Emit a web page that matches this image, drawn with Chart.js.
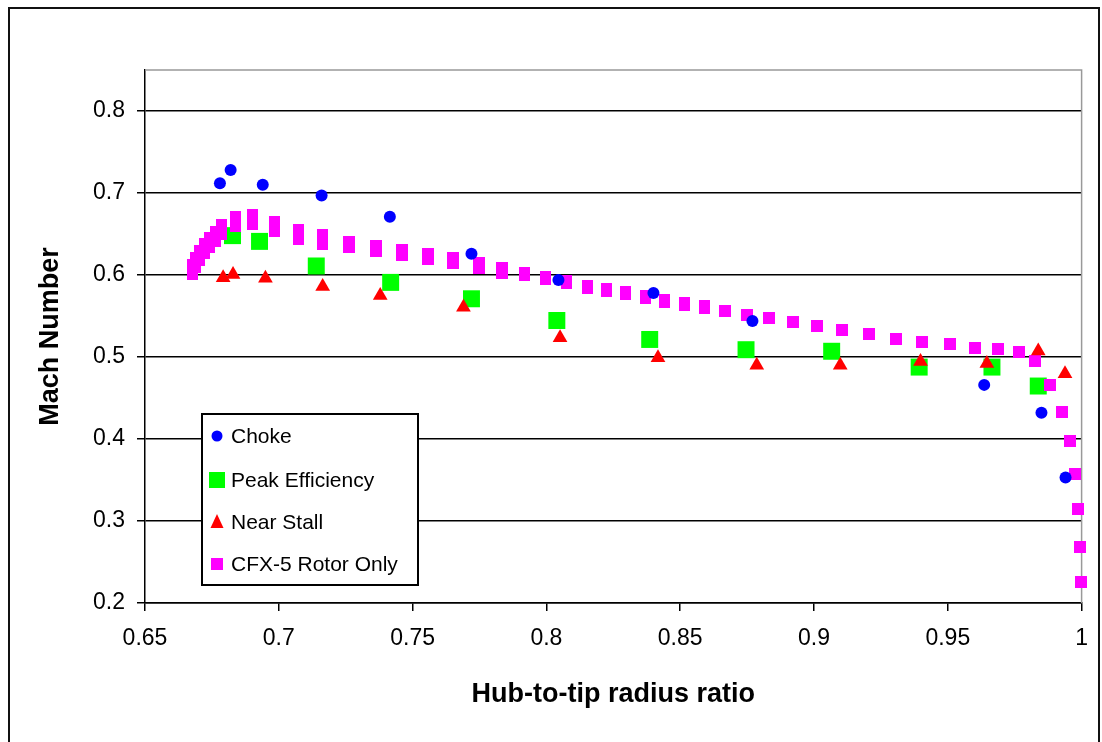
<!DOCTYPE html>
<html>
<head>
<meta charset="utf-8">
<script src="https://cdn.jsdelivr.net/npm/chart.js@4"></script>
<style>
  html, body { margin: 0; padding: 0; background: #fff; }
  #wrap { width: 1102px; height: 742px; }
</style>
</head>
<body>
<div id="wrap"><canvas id="machChart" width="1102" height="742"></canvas></div>
<script>
// Hub-to-tip radius ratio vs Mach number
const chokeX = [0.678, 0.682, 0.694, 0.716, 0.7415, 0.772, 0.8045, 0.840, 0.877, 0.9636, 0.985, 0.994];
const chokeY = [0.712, 0.728, 0.710, 0.697, 0.671, 0.626, 0.594, 0.578, 0.544, 0.466, 0.432, 0.353];

const peakX = [0.6827, 0.6928, 0.714, 0.7418, 0.772, 0.8039, 0.8386, 0.8746, 0.9066, 0.9393, 0.9665, 0.9838];
const peakY = [0.648, 0.641, 0.611, 0.591, 0.571, 0.5445, 0.5214, 0.5089, 0.507, 0.4877, 0.4877, 0.4646];

const stallX = [0.6792, 0.6829, 0.695, 0.7164, 0.7379, 0.769, 0.8051, 0.8417, 0.8786, 0.9098, 0.9398, 0.9646, 0.9838, 0.9938];
const stallY = [0.5965, 0.6005, 0.596, 0.586, 0.575, 0.5607, 0.5235, 0.499, 0.4898, 0.4898, 0.4946, 0.492, 0.5072, 0.4797];

const cfxX = [0.6679, 0.6690, 0.6705, 0.6723, 0.6742, 0.6764, 0.6787, 0.6838, 0.6903, 0.6984,
  0.7072, 0.7165, 0.7263, 0.7363, 0.7459, 0.7558, 0.7652, 0.7747, 0.7834, 0.7917,
  0.7998, 0.8076, 0.8153, 0.8225, 0.8296, 0.8370, 0.8443, 0.8517, 0.8592, 0.8669,
  0.8748, 0.8833, 0.8923, 0.9011, 0.9104, 0.9206, 0.9305, 0.9405, 0.9507, 0.9600,
  0.9687, 0.9767, 0.9827, 0.9883, 0.9927, 0.9955, 0.9976, 0.9987, 0.9995, 0.9997];
const cfxY = [0.6066, 0.6151, 0.6236, 0.6321, 0.6394, 0.6467, 0.6552, 0.6652, 0.6682, 0.6597,
  0.6495, 0.6431, 0.6374, 0.6321, 0.6269, 0.6220, 0.6172, 0.6118, 0.6054, 0.6013,
  0.5962, 0.5911, 0.5859, 0.5819, 0.5786, 0.5734, 0.5685, 0.5652, 0.5612, 0.5567,
  0.5518, 0.5473, 0.5425, 0.5376, 0.5327, 0.5275, 0.5223, 0.5178, 0.5157, 0.5108,
  0.5096, 0.5062, 0.4946, 0.4655, 0.4330, 0.3973, 0.3568, 0.3150, 0.2684, 0.2254];

const seriesNames = ['Choke', 'Peak Efficiency', 'Near Stall', 'CFX-5 Rotor Only'];
const xTickLabels = ['0.65', '0.7', '0.75', '0.8', '0.85', '0.9', '0.95', '1'];
const yTickLabels = ['0.2', '0.3', '0.4', '0.5', '0.6', '0.7', '0.8'];

const BLUE = '#0000ff';
const GREEN = '#00ff00';
const RED = '#ff0000';
const MAGENTA = '#ff00ff';
const FONT = '"Liberation Sans", Arial, sans-serif';

function toPoints(xs, ys) {
  return xs.map((x, i) => ({ x, y: ys[i] }));
}

function makeBlock(w, h, color) {
  const c = document.createElement('canvas');
  c.width = w;
  c.height = h;
  const g = c.getContext('2d');
  g.fillStyle = color;
  g.fillRect(0, 0, w, h);
  return c;
}

// CFX markers are stretched where the curve is steep
const cfxBlocks = {
  tall: makeBlock(11, 21, MAGENTA),
  mid: makeBlock(12, 17, MAGENTA),
  low: makeBlock(11, 14, MAGENTA),
  square: makeBlock(12, 12, MAGENTA),
};

function cfxStyle(ctx) {
  const p = ctx.raw;
  if (!p) return cfxBlocks.square;
  if (p.x < 0.72) return cfxBlocks.tall;
  if (p.x < 0.79) return cfxBlocks.mid;
  if (p.x < 0.86) return cfxBlocks.low;
  return cfxBlocks.square;
}

const chartFrame = {
  id: 'chartFrame',
  beforeDraw(chart) {
    const ctx = chart.ctx;
    ctx.save();
    ctx.fillStyle = '#fff';
    ctx.fillRect(0, 0, chart.width, chart.height);
    ctx.restore();
  },
  beforeDatasetsDraw(chart) {
    const { ctx, chartArea: a } = chart;
    ctx.save();
    ctx.strokeStyle = '#999';
    ctx.lineWidth = 1.5;
    ctx.beginPath();
    ctx.moveTo(a.left, a.top);
    ctx.lineTo(a.right, a.top);
    ctx.lineTo(a.right, a.bottom);
    ctx.stroke();
    ctx.restore();
  },
  afterDraw(chart) {
    const ctx = chart.ctx;
    ctx.save();
    // outer border
    ctx.strokeStyle = '#111';
    ctx.lineWidth = 2;
    ctx.strokeRect(9, 8, 1090, 760);

    // legend box
    const lx = 202, ly = 414, lw = 216, lh = 171;
    ctx.fillStyle = '#fff';
    ctx.fillRect(lx, ly, lw, lh);
    ctx.strokeStyle = '#000';
    ctx.lineWidth = 2;
    ctx.strokeRect(lx, ly, lw, lh);

    const mx = 217;
    const rows = [436, 480, 522, 564];
    // Choke
    ctx.fillStyle = BLUE;
    ctx.beginPath();
    ctx.arc(mx, rows[0], 5.5, 0, Math.PI * 2);
    ctx.fill();
    // Peak Efficiency
    ctx.fillStyle = GREEN;
    ctx.fillRect(mx - 8, rows[1] - 8, 16, 16);
    // Near Stall
    ctx.fillStyle = RED;
    ctx.beginPath();
    ctx.moveTo(mx, rows[2] - 8);
    ctx.lineTo(mx + 6.5, rows[2] + 6);
    ctx.lineTo(mx - 6.5, rows[2] + 6);
    ctx.closePath();
    ctx.fill();
    // CFX-5
    ctx.fillStyle = MAGENTA;
    ctx.fillRect(mx - 6, rows[3] - 6, 12, 12);

    ctx.fillStyle = '#000';
    ctx.font = '21px ' + FONT;
    ctx.textAlign = 'left';
    ctx.textBaseline = 'middle';
    seriesNames.forEach((name, i) => ctx.fillText(name, 231, rows[i] + 1));
    ctx.restore();
  },
};

new Chart(document.getElementById('machChart'), {
  type: 'scatter',
  data: {
    datasets: [
      {
        label: seriesNames[0],
        data: toPoints(chokeX, chokeY),
        pointStyle: 'circle',
        pointRadius: 6,
        backgroundColor: BLUE,
        borderWidth: 0,
        order: 0,
      },
      {
        label: seriesNames[1],
        data: toPoints(peakX, peakY),
        pointStyle: 'rect',
        pointRadius: 12,
        backgroundColor: GREEN,
        borderWidth: 0,
        order: 3,
      },
      {
        label: seriesNames[2],
        data: toPoints(stallX, stallY),
        pointStyle: 'triangle',
        pointRadius: 8.5,
        backgroundColor: RED,
        borderWidth: 0,
        order: 1,
      },
      {
        label: seriesNames[3],
        data: toPoints(cfxX, cfxY),
        pointStyle: cfxStyle,
        pointRadius: 6,
        backgroundColor: MAGENTA,
        borderWidth: 0,
        order: 2,
      },
    ].map((d) => ({ ...d, clip: false, pointHoverRadius: d.pointRadius })),
  },
  options: {
    responsive: false,
    devicePixelRatio: 1,
    animation: false,
    events: [],
    layout: { padding: { left: 0, right: 18, top: 70, bottom: 0 } },
    plugins: {
      legend: { display: false },
      tooltip: { enabled: false },
    },
    scales: {
      x: {
        type: 'linear',
        min: 0.65,
        max: 1.0,
        afterFit: (scale) => { scale.height = 139; },
        ticks: {
          stepSize: 0.05,
          color: '#000',
          padding: 14,
          maxRotation: 0,
          font: { family: FONT, size: 23 },
          callback: (v, i) => xTickLabels[i],
        },
        grid: {
          drawOnChartArea: false,
          drawTicks: true,
          tickLength: 8,
          color: '#000',
          lineWidth: 1.5,
        },
        border: { display: true, color: '#000', width: 1.5 },
        title: {
          display: true,
          text: 'Hub-to-tip radius ratio',
          color: '#000',
          font: { family: FONT, size: 27, weight: 'bold', lineHeight: 1.2 },
          padding: { top: 0, bottom: 31 },
        },
      },
      y: {
        type: 'linear',
        min: 0.2,
        max: 0.85,
        afterFit: (scale) => { scale.width = 145; },
        afterBuildTicks: (scale) => {
          scale.ticks = scale.ticks.filter((t) => t.value < 0.84);
        },
        ticks: {
          stepSize: 0.1,
          color: '#000',
          padding: 12,
          font: { family: FONT, size: 23 },
          callback: (v, i) => yTickLabels[i],
        },
        grid: {
          color: '#000',
          lineWidth: 1.5,
          tickLength: 8,
        },
        border: { display: true, color: '#000', width: 1.5 },
        title: {
          display: true,
          text: 'Mach Number',
          color: '#000',
          font: { family: FONT, size: 27, weight: 'bold', lineHeight: 1.2 },
          padding: { top: 34, bottom: 0 },
        },
      },
    },
  },
  plugins: [chartFrame],
});
</script>
</body>
</html>
